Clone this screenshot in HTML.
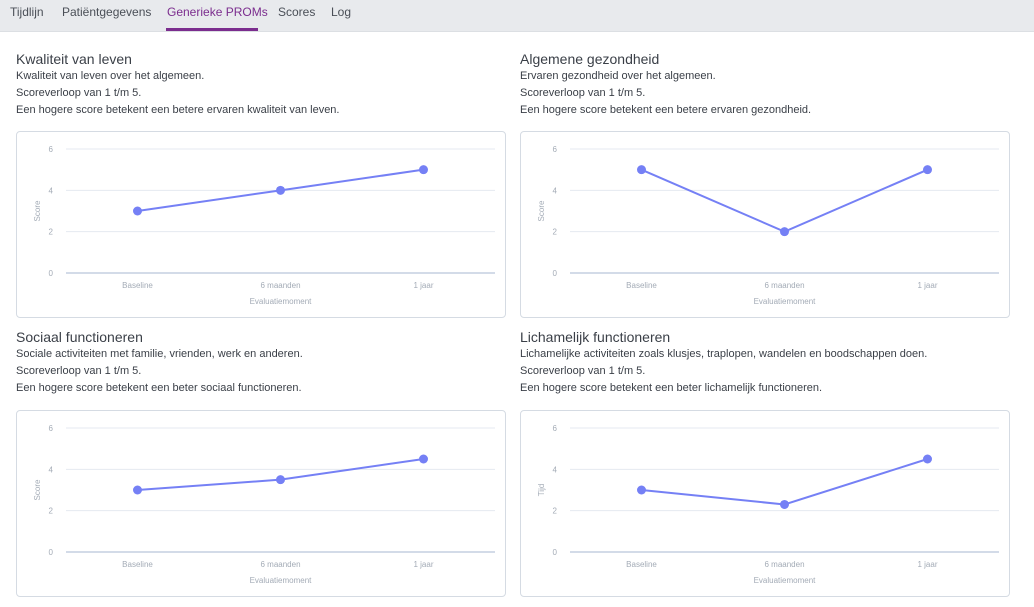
<!DOCTYPE html>
<html><head><meta charset="utf-8"><style>
body{margin:0;width:1034px;height:607px;background:#fff;font-family:"Liberation Sans",sans-serif;overflow:hidden;position:relative}
.nav{position:absolute;left:0;top:0;width:1034px;height:31px;background:#e8eaed;border-bottom:1px solid #dcdfe3}
.tab{position:absolute;top:5px;font-size:12px;color:#4a4f57}
.tab.active{color:#7b2d8e}
.ul{position:absolute;left:166px;top:28px;width:92px;height:3px;background:#7b2d8e}
.sec{position:absolute;color:#3a3f47}
.sec h2{margin:0;font-size:14px;font-weight:normal;height:18px;line-height:18px}
.sec p{margin:0;font-size:11px;line-height:17px}
.box{position:absolute;width:490px;height:187px;border:1px solid #d5dbe3;border-radius:4px;box-sizing:border-box}
svg{position:absolute;left:0;top:0}
</style></head><body>
<div class="nav">
<span class="tab" style="left:10px">Tijdlijn</span>
<span class="tab" style="left:62px">Patiëntgegevens</span>
<span class="tab active" style="left:167px">Generieke PROMs</span>
<span class="tab" style="left:278px">Scores</span>
<span class="tab" style="left:331px">Log</span>
<div class="ul"></div>
</div>
<div class="sec" style="left:16px;top:50px"><h2>Kwaliteit van leven</h2><p>Kwaliteit van leven over het algemeen.</p><p>Scoreverloop van 1 t/m 5.</p><p>Een hogere score betekent een betere ervaren kwaliteit van leven.</p></div>
<div class="sec" style="left:520px;top:50px"><h2>Algemene gezondheid</h2><p>Ervaren gezondheid over het algemeen.</p><p>Scoreverloop van 1 t/m 5.</p><p>Een hogere score betekent een betere ervaren gezondheid.</p></div>
<div class="sec" style="left:16px;top:328px"><h2>Sociaal functioneren</h2><p>Sociale activiteiten met familie, vrienden, werk en anderen.</p><p>Scoreverloop van 1 t/m 5.</p><p>Een hogere score betekent een beter sociaal functioneren.</p></div>
<div class="sec" style="left:520px;top:328px"><h2>Lichamelijk functioneren</h2><p>Lichamelijke activiteiten zoals klusjes, traplopen, wandelen en boodschappen doen.</p><p>Scoreverloop van 1 t/m 5.</p><p>Een hogere score betekent een beter lichamelijk functioneren.</p></div>
<div class="box" style="left:16px;top:131px"><svg id="c0" width="490" height="187"></svg></div>
<div class="box" style="left:520px;top:131px"><svg id="c1" width="490" height="187"></svg></div>
<div class="box" style="left:16px;top:410px"><svg id="c2" width="490" height="187"></svg></div>
<div class="box" style="left:520px;top:410px"><svg id="c3" width="490" height="187"></svg></div>
<script>
const categories=["Baseline","6 maanden","1 jaar"];
const yTicks=[0,2,4,6];
const kwaliteitValues=[3,4,5];
const gezondheidValues=[5,2,5];
const sociaalValues=[3,3.5,4.5];
const lichamelijkValues=[3,2.3,4.5];
const yTitles=["Score","Score","Score","Tijd"];
const NS="http://www.w3.org/2000/svg";
function mk(svg,tag,attrs,text){const e=document.createElementNS(NS,tag);for(const k in attrs)e.setAttribute(k,attrs[k]);if(text!==undefined)e.textContent=text;svg.appendChild(e);return e;}
function draw(id,vals,ytitle){
const svg=document.getElementById(id);
const x0=49,x1=478,yTop=17,yBot=141,ymax=6;
const y=v=>yBot-(v/ymax)*(yBot-yTop);
const step=(x1-x0)/categories.length;
const x=i=>x0+step*(i+0.5);
yTicks.forEach(t=>{
const g=mk(svg,'line',{x1:x0,x2:x1,y1:y(t),y2:y(t),stroke:t===0?'#d3dbe8':'#e4e9f0','stroke-width':t===0?2:1});


const l=mk(svg,'text',{x:36,y:y(t)+3,'font-size':8,fill:'#a3abb6','text-anchor':'end'},t);


});
categories.forEach((c,i)=>{
const l=mk(svg,'text',{x:x(i),y:yBot+15,'font-size':8,fill:'#a3abb6','text-anchor':'middle'},c);


});
const xt=mk(svg,'text',{x:(x0+x1)/2,y:yBot+31,'font-size':8,fill:'#a3abb6','text-anchor':'middle'},'Evaluatiemoment');


const yt=mk(svg,'text',{x:0,y:0,'font-size':8,fill:'#a3abb6','text-anchor':'middle',transform:`translate(23,${(yTop+yBot)/2}) rotate(-90)`},ytitle);


const pl=mk(svg,'polyline',{points:vals.map((v,i)=>x(i)+','+y(v)).join(' '),fill:'none',stroke:'#7580f5','stroke-width':2});


vals.forEach((v,i)=>{
const p=mk(svg,'circle',{cx:x(i),cy:y(v),r:4.5,fill:'#7580f5'});


});
}
draw('c0',kwaliteitValues,yTitles[0]);
draw('c1',gezondheidValues,yTitles[1]);
draw('c2',sociaalValues,yTitles[2]);
draw('c3',lichamelijkValues,yTitles[3]);
</script>
</body></html>
